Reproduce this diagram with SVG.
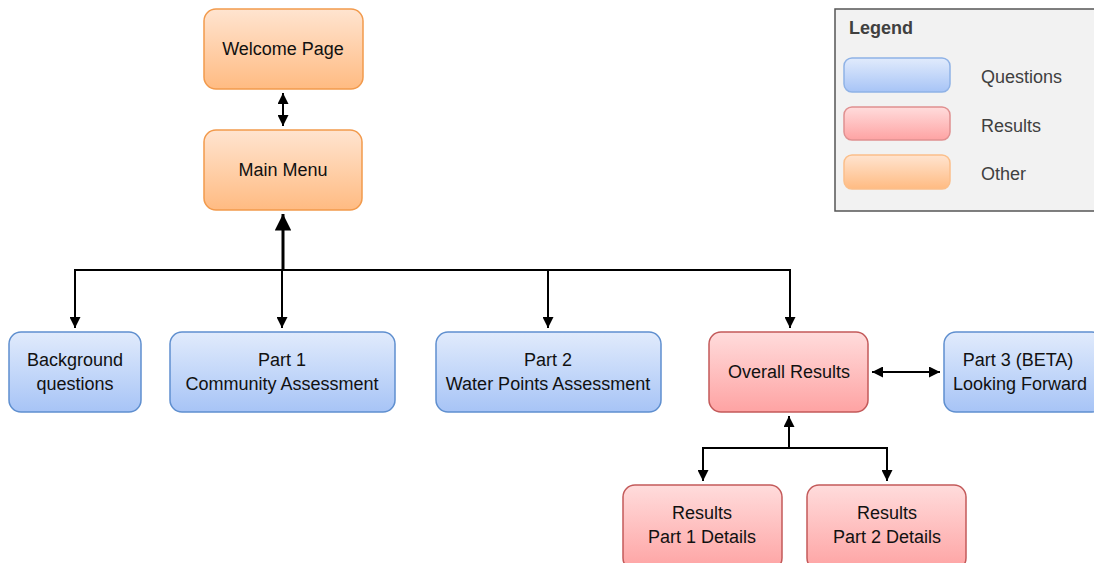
<svg xmlns="http://www.w3.org/2000/svg" width="1094" height="563" viewBox="0 0 1094 563">
<defs>
<linearGradient id="gBlue" x1="0" y1="0" x2="0" y2="1"><stop offset="0" stop-color="#e1ebfc"/><stop offset="1" stop-color="#a7c4f6"/></linearGradient>
<linearGradient id="gRed" x1="0" y1="0" x2="0" y2="1"><stop offset="0" stop-color="#ffdcdc"/><stop offset="1" stop-color="#fea3a3"/></linearGradient>
<linearGradient id="gOrange" x1="0" y1="0" x2="0" y2="1"><stop offset="0" stop-color="#ffe4d0"/><stop offset="1" stop-color="#ffbb82"/></linearGradient>
<marker id="ah" viewBox="0 0 10 10" refX="10" refY="5" markerWidth="5.5" markerHeight="5.5" orient="auto-start-reverse" markerUnits="strokeWidth"><path d="M0,0 L10,5 L0,10 z" fill="#000"/></marker>
<style>
.q{fill:url(#gBlue);stroke:#5f8fcf;stroke-width:1.5}
.r{fill:url(#gRed);stroke:#c35a5a;stroke-width:1.5}
.o{fill:url(#gOrange);stroke:#f29a4c;stroke-width:1.5}
.lq{fill:url(#gBlue);stroke:#8fb2e6;stroke-width:1.5}
.lr{fill:url(#gRed);stroke:#e09090;stroke-width:1.5}
.lo{fill:url(#gOrange);stroke:#fbbf8a;stroke-width:1.5}
text{font-family:"Liberation Sans",Arial,sans-serif;font-size:18px;fill:#111;text-anchor:middle}
.lt{text-anchor:start;fill:#404040}
.c{fill:none;stroke:#000;stroke-width:2}
</style>
</defs>
<g id="connectors">
<line class="c" x1="283" y1="93" x2="283" y2="126" marker-start="url(#ah)" marker-end="url(#ah)"/>
<line class="c" x1="283" y1="270" x2="283" y2="214" style="stroke-width:3" marker-end="url(#ah)"/>
<polyline class="c" points="75,328 75,270 790,270 790,328" marker-start="url(#ah)" marker-end="url(#ah)"/>
<line class="c" x1="282" y1="270" x2="282" y2="328" marker-end="url(#ah)"/>
<line class="c" x1="548" y1="270" x2="548" y2="328" marker-end="url(#ah)"/>
<line class="c" x1="872" y1="372" x2="940" y2="372" marker-start="url(#ah)" marker-end="url(#ah)"/>
<line class="c" x1="789" y1="448" x2="789" y2="416" marker-end="url(#ah)"/>
<polyline class="c" points="703,481 703,448 887,448 887,481" marker-start="url(#ah)" marker-end="url(#ah)"/>
</g>
<g id="welcome"><rect class="o" x="204" y="9" width="159" height="80" rx="12"/><text x="283" y="55">Welcome Page</text></g>
<g id="mainmenu"><rect class="o" x="204" y="130" width="158" height="80" rx="12"/><text x="283" y="176">Main Menu</text></g>
<g id="background"><rect class="q" x="9" y="332" width="132" height="80" rx="12"/><text x="75" y="366">Background</text><text x="75" y="390">questions</text></g>
<g id="part1"><rect class="q" x="170" y="332" width="225" height="80" rx="12"/><text x="282" y="366">Part 1</text><text x="282" y="390">Community Assessment</text></g>
<g id="part2"><rect class="q" x="436" y="332" width="225" height="80" rx="12"/><text x="548" y="366">Part 2</text><text x="548" y="390">Water Points Assessment</text></g>
<g id="overall"><rect class="r" x="709" y="332" width="159" height="80" rx="12"/><text x="789" y="378">Overall Results</text></g>
<g id="part3"><rect class="q" x="944" y="332" width="160" height="80" rx="12"/><text x="1018" y="366">Part 3 (BETA)</text><text x="1020" y="390">Looking Forward</text></g>
<g id="res1"><rect class="r" x="623" y="485" width="159" height="85" rx="12"/><text x="702" y="519">Results</text><text x="702" y="543">Part 1 Details</text></g>
<g id="res2"><rect class="r" x="807" y="485" width="159" height="85" rx="12"/><text x="887" y="519">Results</text><text x="887" y="543">Part 2 Details</text></g>
<g id="legend">
<rect x="835" y="9" width="265" height="202" fill="#f2f2f2" stroke="#555" stroke-width="1.5"/>
<text class="lt" x="849" y="34" style="font-weight:bold">Legend</text>
<rect class="lq" x="844" y="58" width="106" height="34" rx="8"/>
<rect class="lr" x="844" y="107" width="106" height="33" rx="8"/>
<rect class="lo" x="844" y="155" width="106" height="34" rx="8"/>
<text class="lt" x="981" y="83">Questions</text>
<text class="lt" x="981" y="132">Results</text>
<text class="lt" x="981" y="180">Other</text>
</g>
</svg>
